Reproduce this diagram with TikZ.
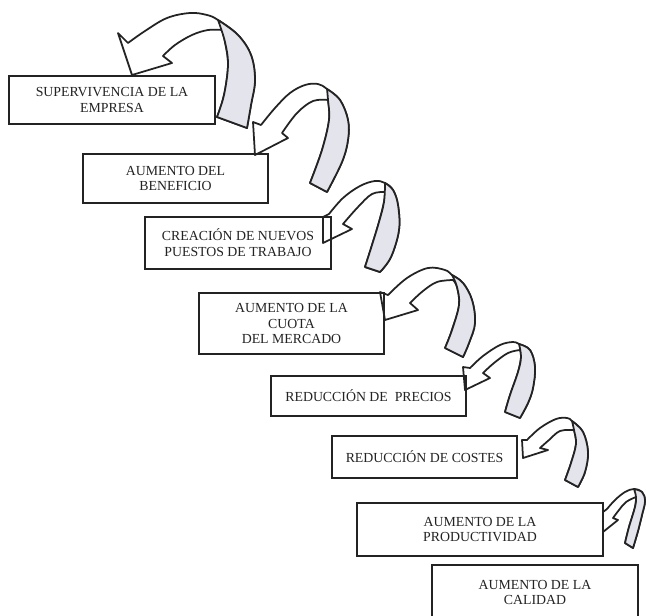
\documentclass[tikz,border=0pt]{standalone}
\usepackage{fontspec}
\setmainfont{Liberation Serif}
\definecolor{legfill}{RGB}{228,228,236}
\definecolor{ink}{RGB}{35,35,35}
\begin{document}
\begin{tikzpicture}[x=0.03cm,y=-0.03cm,
  box/.style={draw=ink, line width=1.3pt, align=center, inner sep=0pt, text=ink,
    font=\fontsize{11.8}{13.6}\selectfont},
  ribbon/.style={draw=ink, line width=1.5pt, fill=white, line join=round},
  ribbonback/.style={ribbon, fill=legfill},
  sm/.style={smooth, tension=0.6}]
\useasboundingbox (0,0) rectangle (646,615);
\fill[white] (0,0) rectangle (646,615);

% ---- arrow 1
\filldraw[ribbon] (118,33) -- plot[sm] coordinates {(128,43) (145,31) (167,18) (190,13) (207,15) (218,20) (238,35) (251,55) (255,80) (251,105) (247,128)}
  -- (217,117) -- plot[sm] coordinates {(217,117) (224,95) (228,65) (225,42) (222,30)}
  -- plot[sm] coordinates {(222,30) (208,30) (192,35) (175,45) (163,56)} -- (172,63) -- (132,75) -- cycle;
\filldraw[ribbonback] plot[sm] coordinates {(218,20) (238,35) (251,55) (255,80) (251,105) (247,128)}
  -- (217,117) -- plot[sm] coordinates {(217,117) (224,95) (228,65) (225,42) (218,20)} -- cycle;

% ---- arrow 2
\filldraw[ribbon] (253,122) -- plot[sm] coordinates {(261,125) (275,108) (290,93) (305,85) (318,84) (327,89) (340,100) (348,120) (348,140) (342,162) (327,192)}
  -- (310,183) -- plot[sm] coordinates {(310,183) (322,150) (329,120) (328,100)}
  -- plot[sm] coordinates {(328,100) (313,101) (297,113) (282,133)} -- (288,138) -- (255,155) -- cycle;
\filldraw[ribbonback] plot[sm] coordinates {(327,89) (340,100) (348,120) (348,140) (342,162) (327,192)}
  -- (310,183) -- plot[sm] coordinates {(310,183) (322,150) (329,120) (328,100) (327,89)} -- cycle;

% ---- arrow 3
\filldraw[ribbon] (323,217) -- plot[sm] coordinates {(329,214) (343,198) (360,186) (375,181) (385,183) (393,190) (398,205) (399,230) (391,257) (380,272)}
  -- (365,267) -- plot[sm] coordinates {(365,267) (372,245) (379,222) (384,202) (385,192)}
  -- plot[sm] coordinates {(385,192) (372,194) (358,207) (343,224)} -- (352,229) -- (323,243) -- cycle;
\filldraw[ribbonback] plot[sm] coordinates {(385,183) (393,190) (398,205) (399,230) (391,257) (380,272)}
  -- (365,267) -- plot[sm] coordinates {(365,267) (372,245) (379,222) (384,202) (385,183)} -- cycle;

% ---- arrow 4
\filldraw[ribbon] (380,292) -- plot[sm] coordinates {(388,295) (407,278) (428,268) (445,270) (452,275) (463,283) (472,300) (475,323) (469,343) (463,357)}
  -- (445,348) -- plot[sm] coordinates {(445,348) (452,330) (459,305) (457,287) (453,280)}
  -- plot[sm] coordinates {(453,280) (437,282) (423,291) (410,303)} -- (418,310) -- (385,320) -- cycle;
\filldraw[ribbonback] plot[sm] coordinates {(452,275) (463,283) (472,300) (475,323) (469,343) (463,357)}
  -- (445,348) -- plot[sm] coordinates {(445,348) (452,330) (459,305) (457,287) (452,275)} -- cycle;

% ---- arrow 5
\filldraw[ribbon] (463,367) -- plot[sm] coordinates {(470,368) (483,356) (500,345) (513,342) (519,344) (530,350) (535,367) (533,388) (528,403) (520,418)}
  -- (505,412) -- plot[sm] coordinates {(505,412) (510,395) (518,372) (521,357) (520,350)}
  -- plot[sm] coordinates {(520,350) (508,353) (494,363) (483,373)} -- (490,378) -- (465,390) -- cycle;
\filldraw[ribbonback] plot[sm] coordinates {(519,344) (530,350) (535,367) (533,388) (528,403) (520,418)}
  -- (505,412) -- plot[sm] coordinates {(505,412) (510,395) (518,372) (521,357) (519,344)} -- cycle;

% ---- arrow 6
\filldraw[ribbon] (522,440) -- plot[sm] coordinates {(527,440) (540,428) (556,419) (567,418) (572,421) (583,432) (588,452) (585,472) (578,487)}
  -- (565,480) -- plot[sm] coordinates {(565,480) (571,463) (576,444) (574,430)}
  -- plot[sm] coordinates {(574,430) (560,431) (549,440) (540,448)} -- (548,450) -- (523,458) -- cycle;
\filldraw[ribbonback] plot[sm] coordinates {(572,421) (583,432) (588,452) (585,472) (578,487)}
  -- (565,480) -- plot[sm] coordinates {(565,480) (571,463) (576,444) (574,430) (572,421)} -- cycle;

% ---- arrow 7
\filldraw[ribbon] (603,512) -- plot[sm] coordinates {(607,509) (615,500) (625,492) (634,489) (642,492) (645,501) (642,515) (638,531) (633,548)}
  -- (625,543) -- plot[sm] coordinates {(625,543) (629,527) (635,507) (636,497)}
  -- plot[sm] coordinates {(636,497) (626,502) (619,510) (613,518)} -- (618,520) -- (603,532) -- cycle;
\filldraw[ribbonback] plot[sm] coordinates {(634,489) (642,492) (645,501) (642,515) (638,531) (633,548)}
  -- (625,543) -- plot[sm] coordinates {(625,543) (629,527) (635,507) (636,497) (634,489)} -- cycle;

% ---- boxes
\node[box, minimum width=6.18cm, minimum height=1.44cm] (b1) at (112,100) {SUPERVIVENCIA DE LA\\EMPRESA};
\node[box, minimum width=5.55cm, minimum height=1.47cm] (b2) at (175.5,178.5) {AUMENTO DEL\\BENEFICIO};
\node[box, minimum width=5.58cm, minimum height=1.56cm] (b3) at (238,243) {CREACIÓN DE NUEVOS\\PUESTOS DE TRABAJO};
\node[box, minimum width=5.55cm, minimum height=1.83cm] (b4) at (291.5,323.5) {AUMENTO DE LA\\CUOTA\\DEL MERCADO};
\node[box, minimum width=5.85cm, minimum height=1.20cm] (b5) at (368.5,396) {REDUCCIÓN DE \ PRECIOS};
\node[box, minimum width=5.55cm, minimum height=1.26cm] (b6) at (424.5,457) {REDUCCIÓN DE COSTES};
\node[box, minimum width=7.38cm, minimum height=1.59cm] (b7) at (480,529.5) {AUMENTO DE LA\\PRODUCTIVIDAD};
\node[box, minimum width=6.18cm, minimum height=1.65cm] (b8) at (535,592.5) {AUMENTO DE LA\\CALIDAD};
\end{tikzpicture}
\end{document}
